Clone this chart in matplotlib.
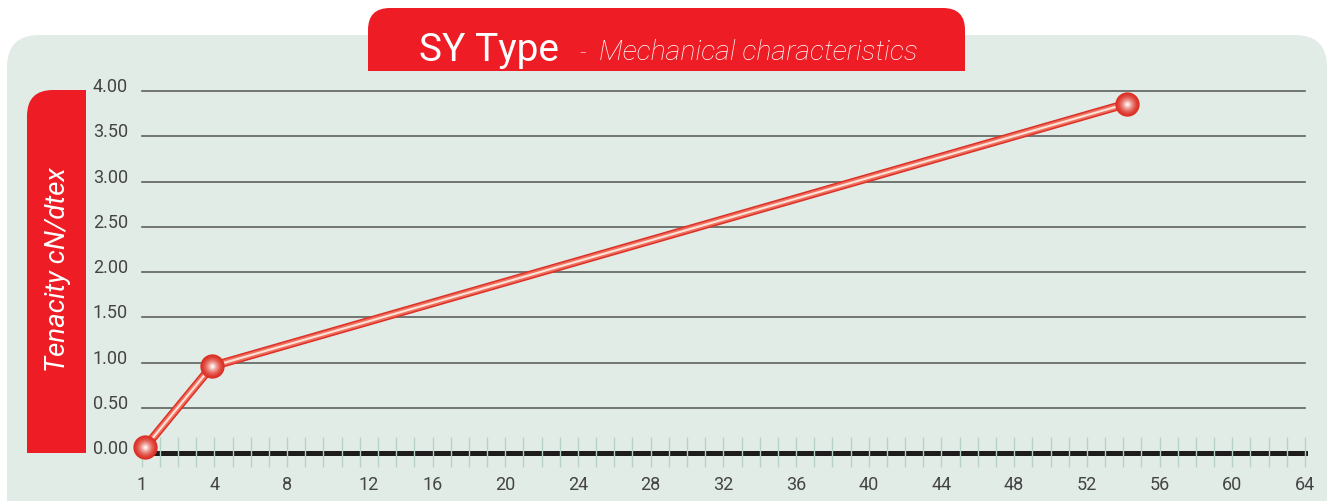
import numpy as np
import matplotlib
matplotlib.use("Agg")
import matplotlib.pyplot as plt
from matplotlib.patches import FancyBboxPatch, Rectangle
from matplotlib.transforms import ScaledTranslation
from matplotlib.colors import to_rgb

# data
elongation = [0.2, 3.85, 54.2]
tenacity = [0.07, 0.96, 3.86]

y_ticks = [0.0, 0.5, 1.0, 1.5, 2.0, 2.5, 3.0, 3.5, 4.0]
y_labels = ["0.00", "0.50", "1.00", "1.50", "2.00", "2.50", "3.00", "3.50", "4.00"]
x_tick_pos = [0, 4, 8, 12.5, 16, 20, 24, 28, 32, 36, 40, 44, 48, 52, 56, 60, 64]
x_labels = ["1", "4", "8", "12", "16", "20", "24", "28", "32", "36", "40",
            "44", "48", "52", "56", "60", "64"]

RED = "#ee1c25"
PANEL = "#e2ece7"
TXT = "#444444"
FONT = ["Roboto", "DejaVu Sans"]

W, H = 1328, 501
fig = plt.figure(figsize=(W / 100, H / 100), dpi=100)
fig.patch.set_facecolor("white")

# background layer in pixel coords
bg = fig.add_axes([0, 0, 1, 1], zorder=0)
bg.set_xlim(0, W)
bg.set_ylim(H, 0)
bg.axis("off")

bg.add_patch(FancyBboxPatch((7, 35), 1320, 520, boxstyle="round,pad=0,rounding_size=32",
                            fc=PANEL, ec="none"))
# title tab
bg.add_patch(FancyBboxPatch((368, 8), 597, 63, boxstyle="round,pad=0,rounding_size=22",
                            fc=RED, ec="none"))
bg.add_patch(Rectangle((368, 40), 597, 31, fc=RED, ec="none"))
# y label tab
bg.add_patch(FancyBboxPatch((27, 90), 59, 363, boxstyle="round,pad=0,rounding_size=26",
                            fc=RED, ec="none"))
bg.add_patch(Rectangle((55, 90), 31, 363, fc=RED, ec="none"))
bg.add_patch(Rectangle((27, 130), 59, 323, fc=RED, ec="none"))

bg.text(419, 61, "SY Type", color="white", fontsize=28, family=FONT, va="baseline", ha="left")
bg.text(579, 60, "-", color="white", fontsize=16, family=FONT, fontweight="light",
        va="baseline", ha="left")
bg.text(599, 60, "Mechanical characteristics", color="white", fontsize=20.5, family=FONT,
        style="italic", fontweight="light", va="baseline", ha="left")
bg.text(58, 270, "Tenacity cN/dtex", color="white", fontsize=20, family=FONT,
        style="italic", rotation=90, va="center", ha="center")

# main chart
ax = fig.add_axes([141.7 / W, 1 - 453.3 / H, (1305 - 141.7) / W, (453.3 - 91) / H], zorder=1)
ax.patch.set_alpha(0)
ax.set_xlim(0, 64)
ax.set_ylim(0, 4)
for s in ax.spines.values():
    s.set_visible(False)

for v in y_ticks[1:]:
    ax.axhline(v, color="#5e615e", lw=1.2, clip_on=False, zorder=1)
ax.axhline(0, color="#1e1c1c", lw=3.6, clip_on=False, zorder=2)
ax.vlines(np.arange(0, 65), -0.147, 0.183, color="#b5d3c2", lw=1.0, clip_on=False, zorder=3)

ax.set_yticks(y_ticks)
ax.set_yticklabels(y_labels)
ax.set_xticks(x_tick_pos)
ax.set_xticklabels(x_labels)
ax.tick_params(axis="both", length=0, labelcolor=TXT, labelsize=13)
ax.tick_params(axis="y", pad=10)
ax.tick_params(axis="x", pad=16)
for lab in ax.get_yticklabels() + ax.get_xticklabels():
    lab.set_family(FONT)
for lab in ax.get_yticklabels():
    lab.set_transform(lab.get_transform() + ScaledTranslation(0, 6 / 100, fig.dpi_scale_trans))

# tube-like line
ax.plot(elongation, tenacity, color="#dc3128", lw=6.2, solid_capstyle="round",
        clip_on=False, zorder=4)
ax.plot(elongation, tenacity, color="#f0705f", lw=4.0, solid_capstyle="round",
        clip_on=False, zorder=5)
ax.plot(elongation, tenacity, color="#fde2d8", lw=1.5, solid_capstyle="round",
        clip_on=False, zorder=6)

# sphere markers
c_out = np.array(to_rgb("#dc2f25"))
c_in = np.array(to_rgb("#fff3ee"))
n = 16
for i in range(n):
    t = i / (n - 1)
    ms = 17.5 * (1 - 0.9 * t)
    col = c_out * (1 - t ** 1.6) + c_in * t ** 1.6
    ax.plot(elongation, tenacity, "o", ms=ms, color=col, mec="none",
            clip_on=False, zorder=7 + i * 0.01)

fig.savefig("out.png", dpi=100, facecolor="white")
